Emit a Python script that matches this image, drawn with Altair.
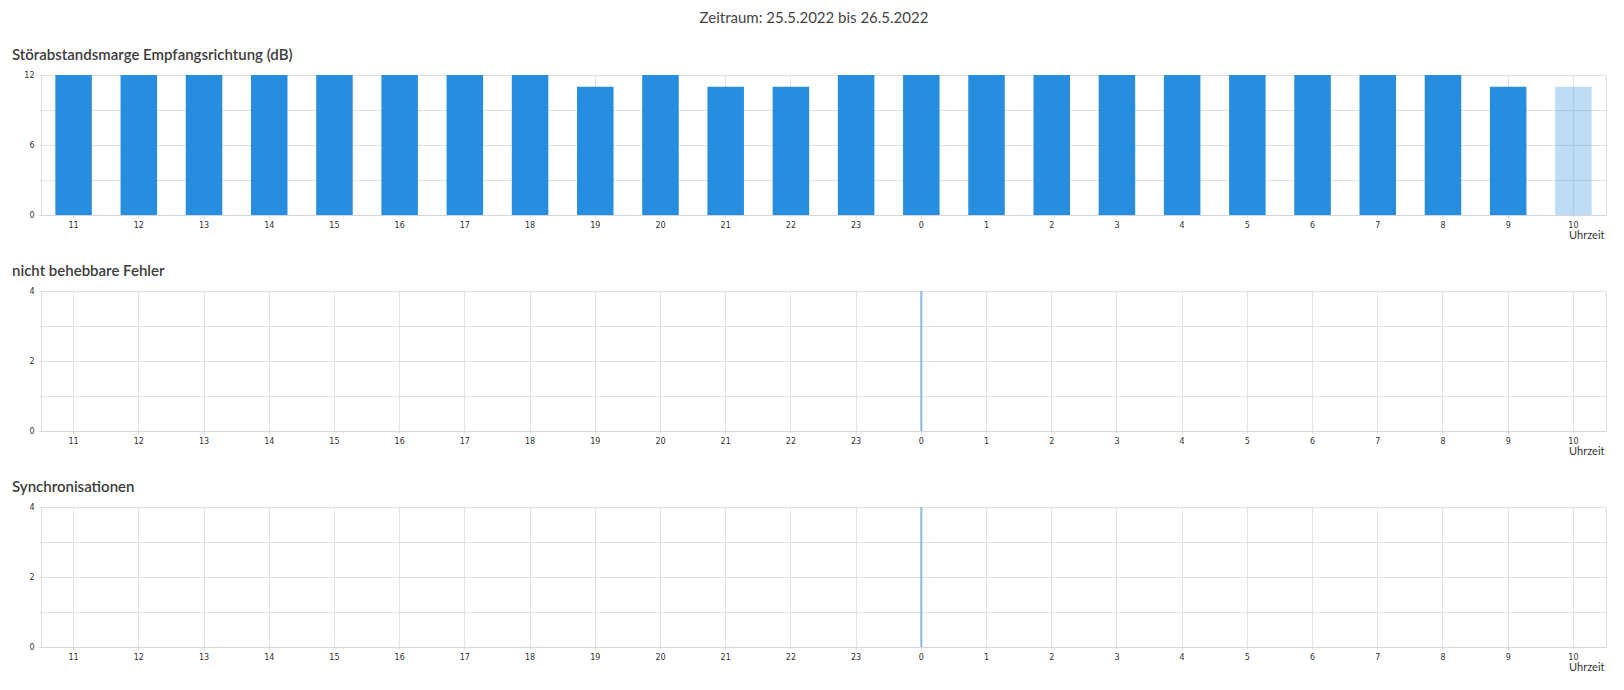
import altair as alt
import pandas as pd

# ---- data ----
hours = ["11", "12", "13", "14", "15", "16", "17", "18", "19", "20", "21", "22",
         "23", "0", "1", "2", "3", "4", "5", "6", "7", "8", "9", "10"]
snr_db = [12, 12, 12, 12, 12, 12, 12, 12, 11, 12, 11, 11,
          12, 12, 12, 12, 12, 12, 12, 12, 12, 12, 11, 11]
snr_opacity = [1, 1, 1, 1, 1, 1, 1, 1, 1, 1, 1, 1,
               1, 1, 1, 1, 1, 1, 1, 1, 1, 1, 1, 0.3]
fehler = [0, 0, 0, 0, 0, 0, 0, 0, 0, 0, 0, 0,
          0, 0, 0, 0, 0, 0, 0, 0, 0, 0, 0, 0]
sync = [0, 0, 0, 0, 0, 0, 0, 0, 0, 0, 0, 0,
        0, 0, 0, 0, 0, 0, 0, 0, 0, 0, 0, 0]
marker_hours = ["0"]

snr_ticks = [0, 3, 6, 9, 12]
count_ticks = [0, 1, 2, 3, 4]

main_title = "Zeitraum: 25.5.2022 bis 26.5.2022"
panel_titles = ["Störabstandsmarge Empfangsrichtung (dB)",
                "nicht behebbare Fehler", "Synchronisationen"]

FONT = "Lato"
TICK_FONT = "DejaVu Sans"
W = 1565
H = 140
BLUE = "#278ddf"
MARK_BLUE = "#86b8e4"

df_snr = pd.DataFrame({"hour": hours, "value": snr_db, "op": snr_opacity})
df_f = pd.DataFrame({"hour": hours, "value": fehler})
df_s = pd.DataFrame({"hour": hours, "value": sync})
df_m = pd.DataFrame({"hour": marker_hours})

xscale = alt.Scale(domain=hours, paddingInner=0.44, paddingOuter=0.22)


def xaxis():
    return alt.Axis(
        title="Uhrzeit", labelAngle=0, labelFontSize=8, labelColor="#333",
        labelFont=TICK_FONT, labelPadding=4, tickSize=2, tickColor="#dddddd",
        domainColor="#d5d5d5", grid=True, gridColor="#e2e2e2",
        titleFontSize=11, titleFontWeight="normal", titleColor="#333",
        titleFont=FONT, titleAnchor="end", titleAlign="right",
        titleBaseline="alphabetic", titleX=W - 2, titleY=23,
    )


def yaxis(vals, step):
    return alt.Axis(
        title=None, values=vals, labelFontSize=8, labelColor="#333",
        labelFont=TICK_FONT, labelPadding=5, tickSize=2, tickColor="#dddddd",
        domain=False, grid=True, gridColor="#e2e2e2", minExtent=32,
        maxExtent=32,
        labelExpr=f"datum.value % {step} == 0 ? datum.label : ''",
    )


def title_text(text, x, y, size, weight, align, color):
    return alt.Chart(pd.DataFrame({"t": [text]})).mark_text(
        font=FONT, fontSize=size, fontWeight=weight, align=align,
        baseline="middle", color=color,
    ).encode(text="t:N", x=alt.value(x), y=alt.value(y))


def panel(df, ymax, ticks, step, title, with_rule, with_opacity, extra=None):
    enc = dict(
        x=alt.X("hour:N", sort=hours, scale=xscale, axis=xaxis()),
        y=alt.Y("value:Q", scale=alt.Scale(domain=[0, ymax], nice=False),
                axis=yaxis(ticks, step)),
    )
    if with_opacity:
        enc["opacity"] = alt.Opacity("op:Q", scale=None, legend=None)
    layers = [alt.Chart(df).mark_bar(color=BLUE).encode(**enc)]
    if with_rule:
        layers.append(
            alt.Chart(df_m).mark_rule(color=MARK_BLUE, strokeWidth=2).encode(
                x=alt.X("hour:N", sort=hours, scale=xscale, bandPosition=0.5)
            )
        )
    layers.append(title_text(title, -29, -20, 15, 600, "left", "#3c3c3c"))
    if extra is not None:
        layers.append(extra)
    return alt.layer(*layers).properties(width=W, height=H)


top_title = title_text(main_title, 773, -57, 15, "normal", "center", "#444")

chart = alt.vconcat(
    panel(df_snr, 12, snr_ticks, 6, panel_titles[0], False, True, top_title),
    panel(df_f, 4, count_ticks, 2, panel_titles[1], True, False),
    panel(df_s, 4, count_ticks, 2, panel_titles[2], True, False),
    spacing=22,
).properties(
    padding={"left": 0, "top": 2, "right": 5, "bottom": 0},
).configure_view(stroke="#dddddd")

chart.save("out.html", embed_options={"renderer": "svg", "actions": False})
